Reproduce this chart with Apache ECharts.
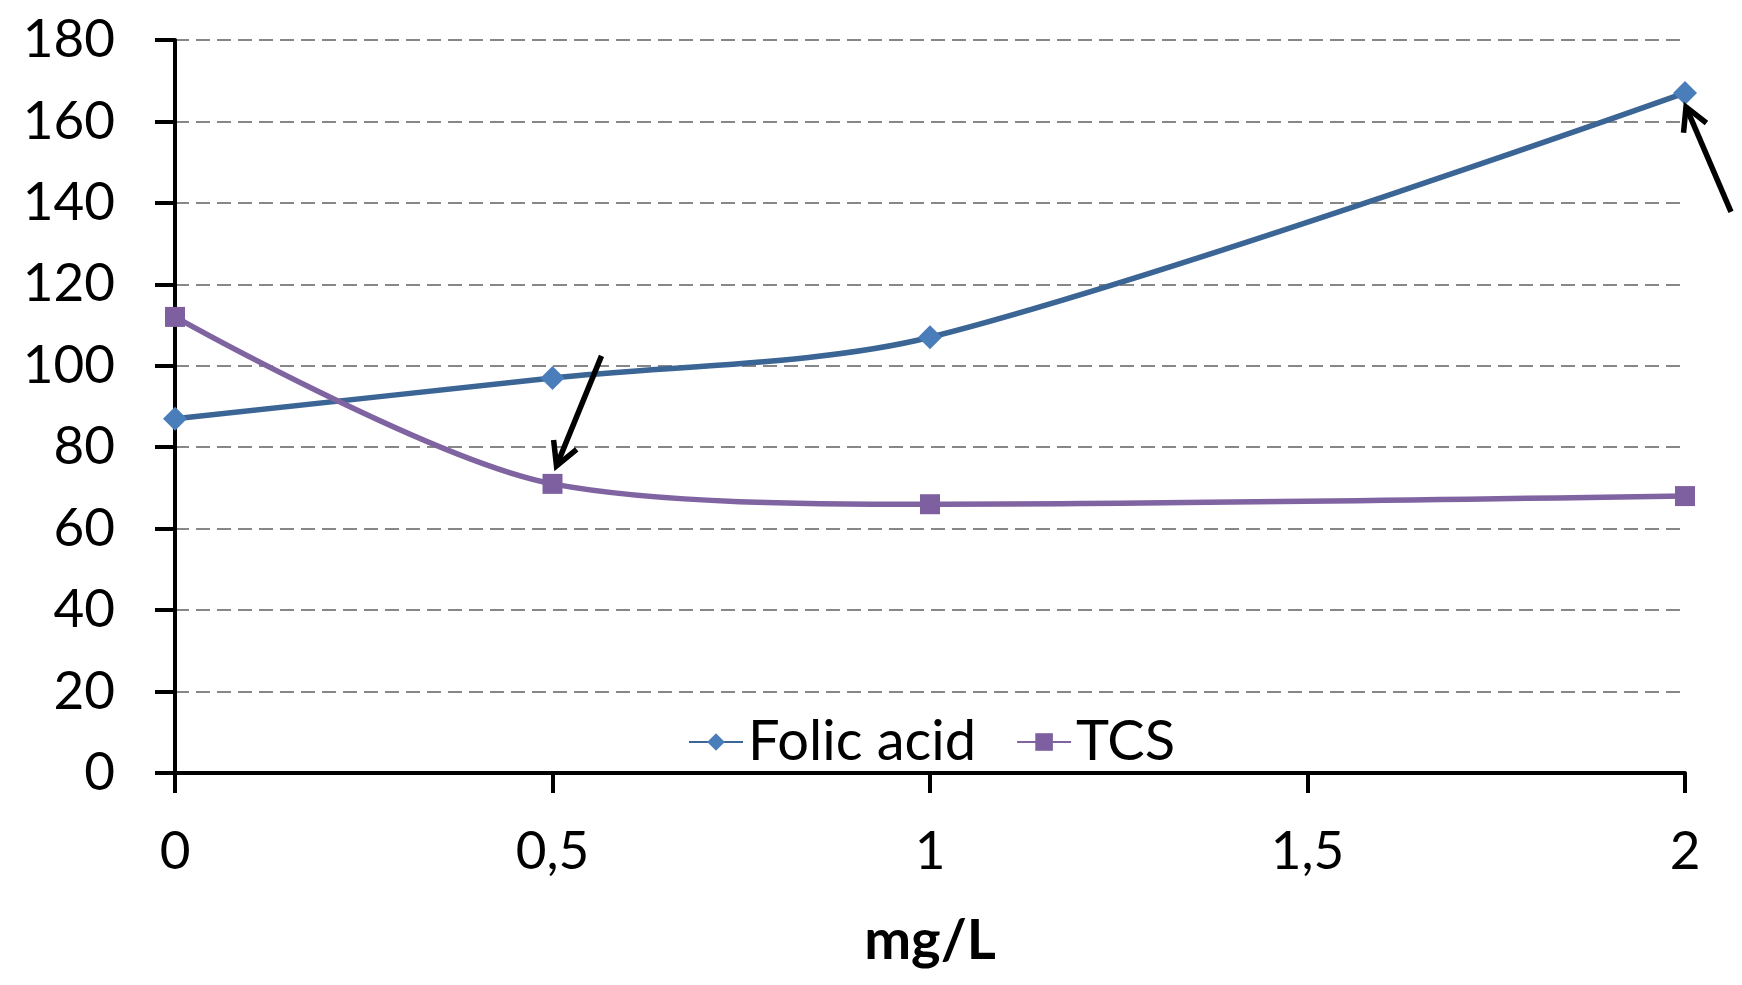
<!DOCTYPE html>
<html>
<head>
<meta charset="utf-8">
<script src="https://cdn.jsdelivr.net/npm/echarts@6/dist/echarts.min.js"></script>
<style>
  html, body { margin: 0; padding: 0; background: #fff; }
  #chart { width: 1742px; height: 985px; }
</style>
</head>
<body>
<div id="chart"></div>
<script>
// ---- data ----
const xValues = [0, 0.5, 1, 2];
const folicAcid = [87, 97, 107, 167];
const tcs = [112, 71, 66, 68];
const seriesNames = ['Folic acid', 'TCS'];
const xAxisTitle = 'mg/L';
const yMin = 0, yMax = 180, yStep = 20;
const xMin = 0, xMax = 2, xStep = 0.5;

const FONT = 'Lato';
const chart = echarts.init(document.getElementById('chart'), null, { renderer: 'canvas' });

function pairs(xs, ys) { return xs.map((x, i) => [x, ys[i]]); }

const option = {
  animation: false,
  backgroundColor: '#ffffff',
  grid: { left: 175, right: 57, top: 40, bottom: 212, containLabel: false },
  legend: {
    left: 683,
    top: 709,
    itemWidth: 54,
    itemHeight: 22,
    itemGap: 40,
    textStyle: { fontFamily: FONT, fontSize: 56, color: '#000' },
    data: seriesNames
  },
  xAxis: {
    type: 'value',
    min: xMin, max: xMax, interval: xStep,
    name: xAxisTitle,
    nameLocation: 'middle',
    nameGap: 140,
    nameTextStyle: { fontFamily: FONT, fontSize: 56, fontWeight: 'bold', color: '#000' },
    axisLine: { show: true, onZero: false, lineStyle: { color: '#000', width: 4 } },
    axisTick: { show: true, inside: false, length: 20, lineStyle: { color: '#000', width: 4 } },
    axisLabel: {
      fontFamily: FONT, fontSize: 53, color: '#000', margin: 52,
      formatter: v => String(v).replace('.', ',')
    },
    splitLine: { show: false }
  },
  yAxis: {
    type: 'value',
    min: yMin, max: yMax, interval: yStep,
    axisLine: { show: true, lineStyle: { color: '#000', width: 4 } },
    axisTick: { show: true, inside: false, length: 20, lineStyle: { color: '#000', width: 4 } },
    axisLabel: { fontFamily: FONT, fontSize: 53, color: '#000', margin: 60 },
    splitLine: { show: true, lineStyle: { color: '#878787', width: 2, type: [14, 7] } }
  },
  series: [
    {
      name: seriesNames[0],
      type: 'line',
      smooth: 0.3,
      data: pairs(xValues, folicAcid),
      symbol: 'diamond',
      symbolSize: 24,
      lineStyle: { color: '#3A6595', width: 5.5 },
      itemStyle: { color: '#4A7EBB' },
      z: 3
    },
    {
      name: seriesNames[1],
      type: 'line',
      smooth: 0.3,
      data: pairs(xValues, tcs),
      symbol: 'rect',
      symbolSize: 20,
      lineStyle: { color: '#8064A2', width: 5.5 },
      itemStyle: { color: '#7E60A0' },
      z: 3
    }
  ]
};
chart.setOption(option);

// ---- arrow annotations anchored to data points (pixel offsets) ----
const arrows = [
  { series: 1, index: 1, tip: [4, -18], tail: [49, -128] },
  { series: 0, index: 3, tip: [1, 14], tail: [46, 119] }
];
function arrowGraphic(a) {
  const sIdx = a.series;
  const ys = sIdx === 0 ? folicAcid : tcs;
  const p = chart.convertToPixel({ seriesIndex: sIdx }, [xValues[a.index], ys[a.index]]);
  const tip = [p[0] + a.tip[0], p[1] + a.tip[1]];
  const tail = [p[0] + a.tail[0], p[1] + a.tail[1]];
  const dx = tail[0] - tip[0], dy = tail[1] - tip[1];
  const len = Math.hypot(dx, dy);
  const ux = dx / len, uy = dy / len;
  const wing = 26, ang = 0.5;
  const w1 = [tip[0] + wing * (ux * Math.cos(ang) - uy * Math.sin(ang)), tip[1] + wing * (ux * Math.sin(ang) + uy * Math.cos(ang))];
  const w2 = [tip[0] + wing * (ux * Math.cos(-ang) - uy * Math.sin(-ang)), tip[1] + wing * (ux * Math.sin(-ang) + uy * Math.cos(-ang))];
  const style = { stroke: '#000', lineWidth: 5.5, fill: null, lineCap: 'butt', lineJoin: 'miter' };
  return [
    { type: 'polyline', shape: { points: [tail, tip] }, style: style, z: 10 },
    { type: 'polyline', shape: { points: [w1, tip, w2] }, style: style, z: 10 }
  ];
}
const elements = [];
arrows.forEach(a => elements.push(...arrowGraphic(a)));
chart.setOption({ graphic: { elements: elements } });
</script>
</body>
</html>
